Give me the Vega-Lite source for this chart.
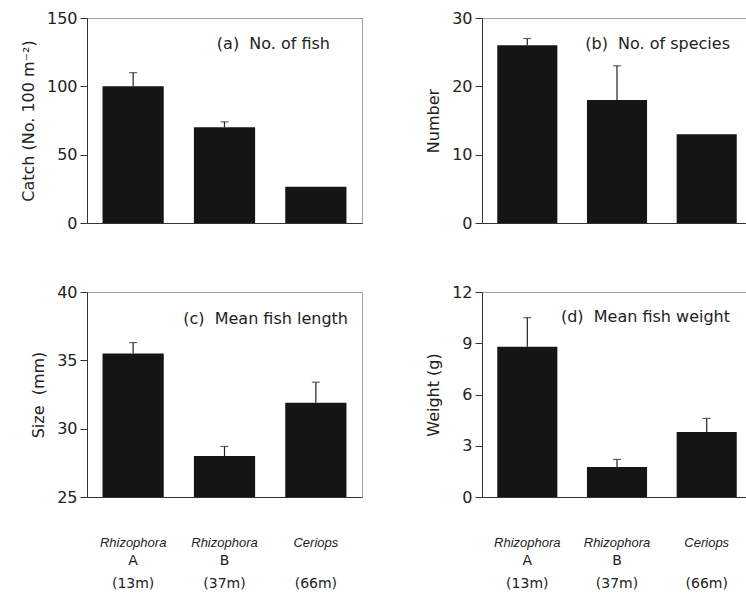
{
  "$schema": "https://vega.github.io/schema/vega-lite/v6.json",
  "background": "white",
  "padding": {"left": 19, "top": 9, "right": 0, "bottom": 0},
  "datasets": {
    "d": [
      {"panel": "a", "site": "Rhizophora A", "mean": 100, "upper": 110},
      {"panel": "a", "site": "Rhizophora B", "mean": 70, "upper": 74},
      {"panel": "a", "site": "Ceriops", "mean": 26.5, "upper": null},
      {"panel": "b", "site": "Rhizophora A", "mean": 26, "upper": 27},
      {"panel": "b", "site": "Rhizophora B", "mean": 18, "upper": 23},
      {"panel": "b", "site": "Ceriops", "mean": 13, "upper": null},
      {"panel": "c", "site": "Rhizophora A", "mean": 35.5, "upper": 36.3},
      {"panel": "c", "site": "Rhizophora B", "mean": 28.0, "upper": 28.7},
      {"panel": "c", "site": "Ceriops", "mean": 31.9, "upper": 33.4},
      {"panel": "d", "site": "Rhizophora A", "mean": 8.8, "upper": 10.5},
      {"panel": "d", "site": "Rhizophora B", "mean": 1.75, "upper": 2.2},
      {"panel": "d", "site": "Ceriops", "mean": 3.8, "upper": 4.6}
    ]
  },
  "data": {"name": "d"},
  "config": {
    "font": "DejaVu Sans",
    "view": {"stroke": "#a0a0a0", "strokeWidth": 1},
    "axis": {
      "grid": false,
      "labelFont": "DejaVu Sans",
      "labelFontSize": 16,
      "labelColor": "#222",
      "titleFont": "DejaVu Sans",
      "titleFontSize": 16,
      "titleFontWeight": "normal",
      "titleColor": "#222",
      "tickSize": 7,
      "tickColor": "#333",
      "domainColor": "#333",
      "titlePadding": 10,
      "labelPadding": 3
    },
    "title": {"font": "DejaVu Sans", "fontSize": 16, "fontWeight": "normal", "color": "#222", "anchor": "end", "offset": -42}
  },
  "vconcat": [
    {
      "spacing": 62,
      "hconcat": [
        {
          "width": 275, "height": 205,
          "title": {"text": "(a)\u00a0 No. of fish", "dx": -32},
          "transform": [{"filter": "datum.panel == 'a'"}],
          "layer": [
            {"mark": {"type": "bar", "color": "#151515"},
             "encoding": {
               "x": {"field": "site", "type": "nominal", "sort": null, "scale": {"paddingInner": 0.33, "paddingOuter": 0.17}, "axis": {"labels": false, "ticks": false, "title": null}},
               "y": {"field": "mean", "type": "quantitative", "scale": {"domain": [0, 150], "nice": false}, "axis": {"values": [0, 50, 100, 150], "title": "Catch (No. 100 m\u207b\u00b2)"}}
             }},
            {"transform": [{"filter": "datum.upper != null"}],
             "mark": {"type": "rule", "color": "#222", "strokeWidth": 1.2},
             "encoding": {"x": {"field": "site", "type": "nominal", "sort": null}, "y": {"field": "mean", "type": "quantitative"}, "y2": {"field": "upper"}}},
            {"transform": [{"filter": "datum.upper != null"}],
             "mark": {"type": "tick", "color": "#222", "size": 8, "thickness": 1.2},
             "encoding": {"x": {"field": "site", "type": "nominal", "sort": null}, "y": {"field": "upper", "type": "quantitative"}}}
          ]
        },
        {
          "width": 270, "height": 205,
          "title": {"text": "(b)\u00a0 No. of species", "dx": -22},
          "transform": [{"filter": "datum.panel == 'b'"}],
          "layer": [
            {"mark": {"type": "bar", "color": "#151515"},
             "encoding": {
               "x": {"field": "site", "type": "nominal", "sort": null, "scale": {"paddingInner": 0.33, "paddingOuter": 0.17}, "axis": {"labels": false, "ticks": false, "title": null}},
               "y": {"field": "mean", "type": "quantitative", "scale": {"domain": [0, 30], "nice": false}, "axis": {"values": [0, 10, 20, 30], "title": "Number"}}
             }},
            {"transform": [{"filter": "datum.upper != null"}],
             "mark": {"type": "rule", "color": "#222", "strokeWidth": 1.2},
             "encoding": {"x": {"field": "site", "type": "nominal", "sort": null}, "y": {"field": "mean", "type": "quantitative"}, "y2": {"field": "upper"}}},
            {"transform": [{"filter": "datum.upper != null"}],
             "mark": {"type": "tick", "color": "#222", "size": 8, "thickness": 1.2},
             "encoding": {"x": {"field": "site", "type": "nominal", "sort": null}, "y": {"field": "upper", "type": "quantitative"}}}
          ]
        }
      ]
    },
    {
      "spacing": 62,
      "hconcat": [
        {
          "width": 275, "height": 205,
          "title": {"text": "(c)\u00a0 Mean fish length", "dx": -14, "offset": -43},
          "transform": [{"filter": "datum.panel == 'c'"}],
          "resolve": {"axis": {"x": "independent"}},
          "layer": [
            {"mark": {"type": "bar", "color": "#151515"},
             "encoding": {
               "x": {"field": "site", "type": "nominal", "sort": null, "scale": {"paddingInner": 0.33, "paddingOuter": 0.17}, "axis": {"ticks": false, "title": null, "labelAngle": 0, "labelFont": "Liberation Sans", "labelFontStyle": "italic", "labelFontSize": 13, "labelPadding": 39, "labelExpr": "split(datum.label, ' ')[0]"}},
               "y": {"field": "mean", "type": "quantitative", "scale": {"domain": [25, 40], "nice": false}, "axis": {"values": [25, 30, 35, 40], "title": "Size\u00a0 (mm)"}},
               "y2": {"datum": 25}
             }},
            {"transform": [{"filter": "datum.upper != null"}],
             "mark": {"type": "rule", "color": "#222", "strokeWidth": 1.2},
             "encoding": {"x": {"field": "site", "type": "nominal", "sort": null, "axis": {"orient": "bottom", "ticks": false, "domain": false, "title": null, "labelAngle": 0, "labelFontSize": 14, "labelPadding": 56, "labelLineHeight": 23, "labelExpr": "datum.value == 'Rhizophora A' ? ['A', '(13m)'] : datum.value == 'Rhizophora B' ? ['B', '(37m)'] : [' ', '(66m)']"}}, "y": {"field": "mean", "type": "quantitative"}, "y2": {"field": "upper"}}},
            {"transform": [{"filter": "datum.upper != null"}],
             "mark": {"type": "tick", "color": "#222", "size": 8, "thickness": 1.2},
             "encoding": {"x": {"field": "site", "type": "nominal", "sort": null, "axis": null}, "y": {"field": "upper", "type": "quantitative"}}}
          ]
        },
        {
          "width": 270, "height": 205,
          "title": {"text": "(d)\u00a0 Mean fish weight", "dx": -22, "offset": -41},
          "transform": [{"filter": "datum.panel == 'd'"}],
          "resolve": {"axis": {"x": "independent"}},
          "layer": [
            {"mark": {"type": "bar", "color": "#151515"},
             "encoding": {
               "x": {"field": "site", "type": "nominal", "sort": null, "scale": {"paddingInner": 0.33, "paddingOuter": 0.17}, "axis": {"ticks": false, "title": null, "labelAngle": 0, "labelFont": "Liberation Sans", "labelFontStyle": "italic", "labelFontSize": 13, "labelPadding": 39, "labelExpr": "split(datum.label, ' ')[0]"}},
               "y": {"field": "mean", "type": "quantitative", "scale": {"domain": [0, 12], "nice": false}, "axis": {"values": [0, 3, 6, 9, 12], "title": "Weight (g)"}}
             }},
            {"transform": [{"filter": "datum.upper != null"}],
             "mark": {"type": "rule", "color": "#222", "strokeWidth": 1.2},
             "encoding": {"x": {"field": "site", "type": "nominal", "sort": null, "axis": {"orient": "bottom", "ticks": false, "domain": false, "title": null, "labelAngle": 0, "labelFontSize": 14, "labelPadding": 56, "labelLineHeight": 23, "labelExpr": "datum.value == 'Rhizophora A' ? ['A', '(13m)'] : datum.value == 'Rhizophora B' ? ['B', '(37m)'] : [' ', '(66m)']"}}, "y": {"field": "mean", "type": "quantitative"}, "y2": {"field": "upper"}}},
            {"transform": [{"filter": "datum.upper != null"}],
             "mark": {"type": "tick", "color": "#222", "size": 8, "thickness": 1.2},
             "encoding": {"x": {"field": "site", "type": "nominal", "sort": null, "axis": null}, "y": {"field": "upper", "type": "quantitative"}}}
          ]
        }
      ]
    }
  ],
  "spacing": 51
}
